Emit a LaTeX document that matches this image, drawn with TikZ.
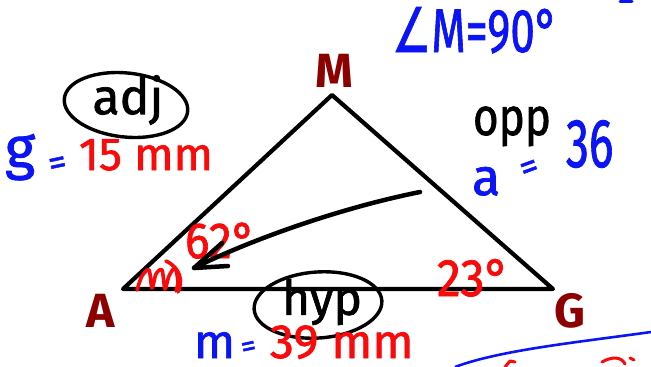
\documentclass[tikz,border=0pt]{standalone}
\usepackage{fontspec}
\setmainfont{Fira Sans}
\newfontfamily\hand{Fira Sans}[FakeBold=1.4]
\newfontfamily\symfont{DejaVu Sans}[FakeBold=1.4]
\usetikzlibrary{calc}
\definecolor{hblue}{RGB}{10,20,245}
\definecolor{hred}{RGB}{250,10,10}
\definecolor{hdark}{RGB}{140,0,0}
\begin{document}
\begin{tikzpicture}[x=1pt,y=-1pt,
  txt/.style={inner sep=0pt,outer sep=0pt},
  vlabel/.style={txt,text=hdark,font=\fontsize{48}{48}\selectfont\bfseries},
  bluetxt/.style={txt,text=hblue},
  redtxt/.style={txt,text=hred},
  blacktxt/.style={txt,text=black},
  side/.style={line width=4.2pt,line join=round,line cap=round},
  ring/.style={line width=3.4pt},
  pen/.style={line width=3pt,line cap=round,line join=round}]
\useasboundingbox (0,0) rectangle (651,367);
% triangle
\coordinate (A) at (123,289);
\coordinate (M) at (332,95);
\coordinate (G) at (553,289);
\draw[side] (A) -- (M) -- (G) -- cycle;
% right angle mark
\coordinate (ra1) at ($(M)!15!(A)$);
\coordinate (ra2) at ($(M)!15!(G)$);
\coordinate (ra3) at ($(ra1)+(ra2)-(M)$);
\draw[line width=2.6pt,line join=round] (ra1) -- (ra3) -- (ra2);
% vertex labels
\node[vlabel,anchor=base] (lA) at (101,327) {A};
\node[vlabel,anchor=base] (lM) at (334,87) {M};
\node[vlabel,anchor=base] (lG) at (570,327) {G};
% adj
\coordinate (adjC) at (126,105);
\draw[ring,rotate around={-6:(adjC)}] (adjC) ellipse [x radius=62, y radius=32];
\node[blacktxt,font=\fontsize{50}{50}\hand] (adjT) at (128,100) {adj};
\node[bluetxt,anchor=base west,font=\fontsize{58}{58}\hand] (gL) at (5,168) {g};
\node[bluetxt,font=\fontsize{36}{36}\hand,rotate=12] (gEq) at (58,166) {=};
\node[redtxt,anchor=base west,font=\fontsize{46}{46}\hand] (gVal) at (79,170) {15 mm};
% angle M
\node[bluetxt,anchor=base west,yscale=1.4,font=\fontsize{44}{44}\hand] (angM) at (392,52) {{\symfont ∠}M=90°};
% opp
\node[blacktxt,anchor=base west,yscale=1.2,font=\fontsize{44}{44}\hand] (opp) at (473,135) {opp};
\node[bluetxt,anchor=base west,font=\fontsize{52}{52}\hand] (aL) at (472,195) {a};
\node[bluetxt,font=\fontsize{36}{36}\hand,rotate=20] (aEq) at (530,170) {=};
\node[bluetxt,anchor=base west,yscale=1.5,font=\fontsize{46}{46}\hand] (aVal) at (566,167) {36};
% angles
\node[redtxt,anchor=base west,yscale=1.1,font=\fontsize{46}{46}\hand] (ang62) at (185,258) {62°};
\node[redtxt,anchor=base west,yscale=1.1,font=\fontsize{48}{48}\hand] (ang23) at (437,296) {23°};
% scribble at A
\draw[hred,pen,line width=3.6pt] plot[smooth] coordinates {(137,290) (142,276) (149,270) (152,288) (156,274) (162,270) (165,289) (169,276) (175,268) (178,282) (176,291)};
\draw[hred,pen,line width=3.6pt] (166,261) .. controls (181,268) and (183,282) .. (178,292);
% arrow
\coordinate (arS) at (420,192);
\coordinate (arT) at (194,268);
\coordinate (hd1) at (222,243);
\coordinate (hd2) at (228,266);
\draw[line width=4.5pt,line cap=round] (arS) .. controls (340,208) and (250,240) .. (arT);
\draw[line width=4.5pt,line cap=round,line join=round] (hd1) -- (arT) -- (hd2);
% hyp
\coordinate (hypC) at (318,305);
\draw[ring,rotate around={4:(hypC)}] (hypC) ellipse [x radius=64, y radius=33];
\node[blacktxt,font=\fontsize{48}{48}\hand] (hypT) at (322,302) {hyp};
\node[bluetxt,anchor=base west,font=\fontsize{48}{48}\hand] (mL) at (194,358) {m};
\node[bluetxt,font=\fontsize{30}{30}\hand,rotate=12] (mEq) at (249,349) {=};
\node[redtxt,anchor=base west,font=\fontsize{48}{48}\hand] (mVal) at (270,358) {39 mm};
% cut-off strokes at the edges
\coordinate (bl1) at (455,367);
\coordinate (bl2) at (651,332);
\draw[hblue,line width=2.6pt] (bl1) .. controls (500,350) and (580,342) .. (bl2);
\draw[hred,pen] (505,367) -- (510,361) -- (515,362);
\draw[hred,pen] (602,362) .. controls (612,356) and (622,357) .. (625,364);
\draw[hred,pen] (630,358) -- (634,360);
\draw[hblue,pen] (620,1) -- (632,1);
\end{tikzpicture}
\end{document}
